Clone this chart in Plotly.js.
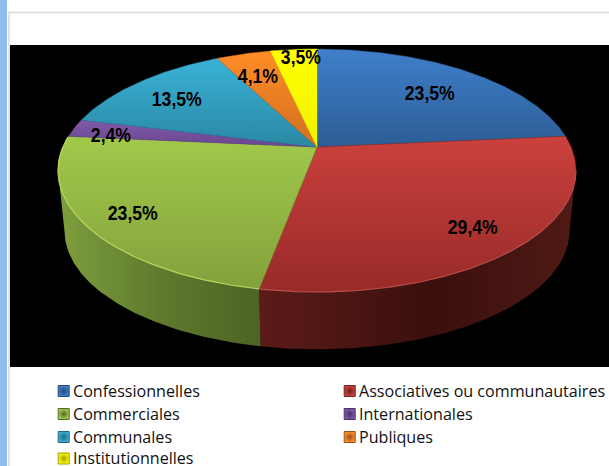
<!DOCTYPE html>
<html><head><meta charset="utf-8">
<script src="https://cdn.plot.ly/plotly-3.0.1.min.js"></script>
<style>html,body{margin:0;padding:0;background:#fff;overflow:hidden}#c{width:609px;height:466px}</style>
</head><body><div id="c"></div>
<script>
var categories = ['Confessionnelles','Associatives ou communautaires','Commerciales','Internationales','Communales','Publiques','Institutionnelles'];
var values = [23.5,29.4,23.5,2.4,13.5,4.1,3.5];

var topTop = ['#3f7fcb','#cb413d','#a1c94b','#8059a8','#39b2d6','#ff8d28','#ffff00'];
var topBot = ['#2c5d95','#972a28','#84a13c','#694690','#2a88a4','#d26f20','#f2f200'];
var swatchEdge = ['#264a78','#6e1f1d','#56692b','#453064','#1f6780','#99521a','#9c9c00'];
var labelX = [430,473,133,111,177,258,301];
var labelY = [92,226,212,134,98,75,56.5];

// Perspective projection of a unit disc
var cx=317, cy=147, k=-0.1934, a=116.95, b=254.1;
function proj(deg,r,s,dy){
  var t=deg*Math.PI/180, u=r*Math.sin(t), v=-r*Math.cos(t), w=1+k*v;
  return [cx+s*u*b/w, cy+dy+s*v*a/w];
}
function arc(d0,d1,s,dy){
  var n=Math.max(2,Math.ceil(Math.abs(d1-d0))*2), xs=[], ys=[];
  for(var i=0;i<=n;i++){var p=proj(d0+(d1-d0)*i/n,1,s,dy);xs.push(p[0]);ys.push(p[1]);}
  return [xs,ys];
}
var total=values.reduce(function(p,c){return p+c;},0), traces=[], cum=0, angles=[];
values.forEach(function(v){angles.push([cum/total*360,(cum+v)/total*360]);cum+=v;});

// side wall: only the two front slices are visible
var wallS=0.975, wallDy=61, visA=101.2, visB=258.8;
var wallStops={
  1:[[0,'#5c1b18'],[0.55,'#3a0f0d'],[1,'#501a15']],
  2:[[0,'#7f9f3e'],[0.5,'#5f7a2e'],[1,'#4e6322']]
};
[1,2].forEach(function(i){
  var d0=Math.max(angles[i][0],visA), d1=Math.min(angles[i][1],visB);
  var t=arc(d0,d1,1,0), bt=arc(d1,d0,wallS,wallDy);
  traces.push({type:'scatter',mode:'lines',x:t[0].concat(bt[0]),y:t[1].concat(bt[1]),fill:'toself',
    line:{width:0},hoverinfo:'skip',showlegend:false,fillgradient:{type:'horizontal',colorscale:wallStops[i]}});
});

// top faces
values.forEach(function(v,i){
  var ar=arc(angles[i][0],angles[i][1],1,0);
  var xs=[cx].concat(ar[0]).concat([cx]), ys=[cy].concat(ar[1]).concat([cy]);
  traces.push({type:'scatter',mode:'lines',x:xs,y:ys,fill:'toself',name:categories[i],
    line:{width:0.5,color:topBot[i]},hoverinfo:'name',showlegend:false,
    fillgradient:{type:'vertical',colorscale:[[0,topBot[i]],[1,topTop[i]]]}});
});
// bevel highlight along the front rim
[[1,'#b84e4a',101.2,190.4],[2,'#b9d860',190.4,275]].forEach(function(r){
  var ar=arc(Math.max(r[2],angles[r[0]][0]),Math.min(r[3],angles[r[0]][1]),1,0);
  traces.push({type:'scatter',mode:'lines',x:ar[0],y:ar[1],line:{width:1.2,color:r[1]},hoverinfo:'skip',showlegend:false});
});
// legend
var legX=[63.7,349.7], legRow=[391,414,437,458.5];
var rowCol=[[0,0],[0,1],[1,0],[1,1],[2,0],[2,1],[3,0]];
categories.forEach(function(c,i){
  traces.push({type:'scatter',mode:'markers',x:[legX[rowCol[i][1]]],y:[legRow[rowCol[i][0]]],
    marker:{symbol:'square',size:11,color:topTop[i],line:{width:1,color:swatchEdge[i]},gradient:{type:'radial',color:swatchEdge[i]}},
    hoverinfo:'skip',showlegend:false});
});

var ann=values.map(function(v,i){
  return {x:labelX[i],y:labelY[i],xref:'x',yref:'y',showarrow:false,captureevents:false,
    text:v.toFixed(1).replace('.',',')+'%',
    font:{family:'"Liberation Sans",sans-serif',size:21,color:'#000',weight:700}};
});
categories.forEach(function(c,i){
  ann.push({x:legX[rowCol[i][1]]+9,y:legRow[rowCol[i][0]]-0.5,xref:'x',yref:'y',xanchor:'left',yanchor:'middle',showarrow:false,
    borderpad:0,borderwidth:0,text:c,font:{family:'"Open Sans",sans-serif',size:16.1,color:'#111'}});
});

var layout={width:609,height:466,margin:{l:0,r:0,t:0,b:0},paper_bgcolor:'#fff',plot_bgcolor:'rgba(0,0,0,0)',
  showlegend:false,
  xaxis:{range:[0,609],visible:false,fixedrange:true},
  yaxis:{range:[466,0],visible:false,fixedrange:true},
  annotations:ann,
  shapes:[
   {type:'rect',layer:'below',xref:'paper',yref:'paper',x0:0,x1:7/609,y0:0,y1:1,fillcolor:'#8fbcea',line:{width:0}},
   {type:'rect',layer:'below',xref:'x',yref:'y',x0:9,x1:620,y0:12.5,y1:480,fillcolor:'#fff',line:{width:1.5,color:'#d9d9d9'}},
   {type:'rect',layer:'below',xref:'x',yref:'y',x0:10,x1:609,y0:45,y1:367,fillcolor:'#000',line:{width:0}}
  ]};
Plotly.newPlot('c',traces,layout,{displayModeBar:false,staticPlot:true}).then(function(){
  // the slice labels are a narrow face: condense them horizontally
  var nodes=document.querySelectorAll('#c .annotation-text');
  for(var i=0;i<values.length;i++){
    var n=nodes[i], w=n.getComputedTextLength();
    n.setAttribute('textLength',(w*0.84).toFixed(1));
    n.setAttribute('lengthAdjust','spacingAndGlyphs');
  }
});
</script></body></html>
